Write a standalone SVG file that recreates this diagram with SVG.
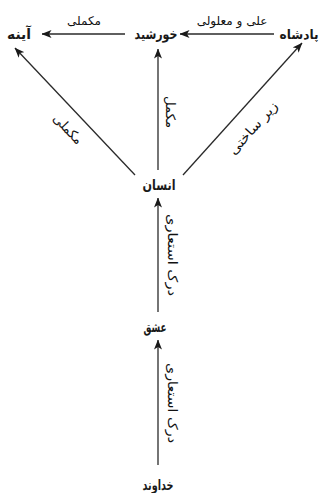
<svg xmlns="http://www.w3.org/2000/svg" width="324" height="493" viewBox="0 0 324 493">
<style>
.n{font-family:"DejaVu Sans","Noto Sans",sans-serif;font-size:14px;font-weight:bold;fill:#1a1a1a;text-anchor:middle}
.l{font-family:"DejaVu Sans","Noto Sans",sans-serif;font-size:12px;font-weight:500;fill:#111;text-anchor:middle;dominant-baseline:central}
.r{font-size:13px}
.c{stroke:#2a2a2a;stroke-width:1.3;fill:none;marker-end:url(#ah)}
</style>
<defs>
<marker id="ah" viewBox="0 0 10 8" refX="9.5" refY="4" markerWidth="10" markerHeight="8" markerUnits="userSpaceOnUse" orient="auto">
<path d="M0,0 L10,4 L0,8 L2.5,4 z" fill="#1a1a1a"/>
</marker>
</defs>
<rect width="324" height="493" fill="#fff"/>
<g id="connectors">
<line class="c" x1="125" y1="34" x2="42" y2="34"/>
<line class="c" x1="274" y1="34" x2="180" y2="34"/>
<line class="c" x1="135" y1="175" x2="15" y2="48"/>
<line class="c" x1="158" y1="170" x2="158" y2="49"/>
<line class="c" x1="183" y1="175" x2="302" y2="43"/>
<line class="c" x1="158" y1="312" x2="158" y2="198"/>
<line class="c" x1="158" y1="465" x2="158" y2="340"/>
<text class="l" x="84" y="21">مکملی</text>
<text class="l" x="232" y="21">علی و معلولی</text>
<text class="l r" transform="translate(68,129) rotate(46.6)" textLength="36" lengthAdjust="spacingAndGlyphs">مکملی</text>
<text class="l r" transform="translate(170,112) rotate(90)" textLength="32" lengthAdjust="spacingAndGlyphs">مکمل</text>
<text class="l r" transform="translate(253,128) rotate(-48)" textLength="66" lengthAdjust="spacingAndGlyphs">زیر ساختی</text>
<text class="l r" transform="translate(172,255) rotate(90)" textLength="82" lengthAdjust="spacingAndGlyphs">درک استعاری</text>
<text class="l r" transform="translate(172,403) rotate(90)" textLength="80" lengthAdjust="spacingAndGlyphs">درک استعاری</text>
</g>
<g id="ayeneh"><text class="n" x="19" y="39" textLength="24" lengthAdjust="spacingAndGlyphs">آینه</text></g>
<g id="khorshid"><text class="n" x="156" y="39" textLength="43" lengthAdjust="spacingAndGlyphs">خورشید</text></g>
<g id="padeshah"><text class="n" x="299" y="39" style="font-size:13px" textLength="39" lengthAdjust="spacingAndGlyphs">پادشاه</text></g>
<g id="ensan"><text class="n" x="159" y="190" textLength="33" lengthAdjust="spacingAndGlyphs">انسان</text></g>
<g id="eshgh"><text class="n" x="155" y="332" textLength="23" lengthAdjust="spacingAndGlyphs">عشق</text></g>
<g id="khodavand"><text class="n" x="158" y="490" textLength="31" lengthAdjust="spacingAndGlyphs">خداوند</text></g>
</svg>
